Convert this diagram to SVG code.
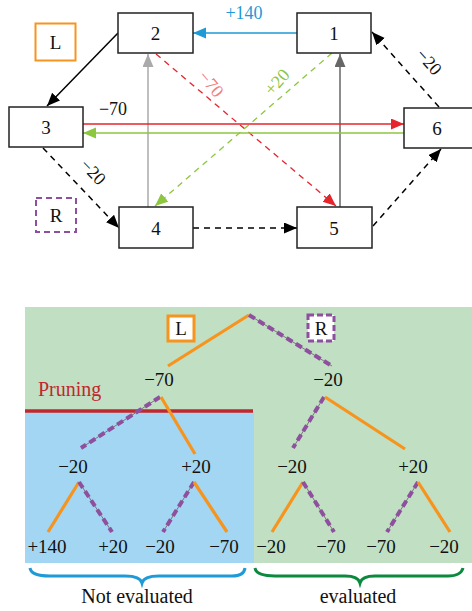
<svg xmlns="http://www.w3.org/2000/svg" width="472" height="611" viewBox="0 0 472 611">
<style>
text{font-family:"Liberation Serif","Times New Roman",Tinos,"Nimbus Roman","Noto Serif","DejaVu Serif",FreeSerif,serif;fill:#111}
.node rect{fill:#fff;stroke:#222;stroke-width:1.5}
.nl{font-size:19px;text-anchor:middle}
.el{font-size:18px;text-anchor:middle}
.tl{font-size:19px;text-anchor:middle}
.or{stroke:#f7941d;stroke-width:3.2;fill:none;stroke-linecap:butt}
.pu{stroke:#8e4f9e;stroke-width:4;stroke-dasharray:7 4;fill:none}
.pg{stroke:#777;stroke-width:1;fill:none}
</style>
<defs>
<marker id="ak" markerUnits="userSpaceOnUse" markerWidth="14" markerHeight="12" refX="13" refY="5.5" orient="auto"><path d="M0,0 L13,5.5 L0,11 z" fill="#000"/></marker>
<marker id="ab" markerUnits="userSpaceOnUse" markerWidth="14" markerHeight="12" refX="13" refY="5.5" orient="auto"><path d="M0,0 L13,5.5 L0,11 z" fill="#1e9ad6"/></marker>
<marker id="ar" markerUnits="userSpaceOnUse" markerWidth="14" markerHeight="12" refX="13" refY="5.5" orient="auto"><path d="M0,0 L13,5.5 L0,11 z" fill="#e6242b"/></marker>
<marker id="ag" markerUnits="userSpaceOnUse" markerWidth="14" markerHeight="12" refX="13" refY="5.5" orient="auto"><path d="M0,0 L13,5.5 L0,11 z" fill="#8dc63f"/></marker>
<marker id="al" markerUnits="userSpaceOnUse" markerWidth="14" markerHeight="12" refX="13" refY="5.5" orient="auto"><path d="M0,0 L13,5.5 L0,11 z" fill="#aaaaaa"/></marker>
<marker id="ad" markerUnits="userSpaceOnUse" markerWidth="14" markerHeight="12" refX="13" refY="5.5" orient="auto"><path d="M0,0 L13,5.5 L0,11 z" fill="#666666"/></marker>
</defs>

<g id="connectors">
<line x1="297" y1="33" x2="193" y2="33" stroke="#1e9ad6" stroke-width="1.5" marker-end="url(#ab)"/>
<line x1="118" y1="33" x2="47" y2="106" stroke="#000" stroke-width="1.5" marker-end="url(#ak)"/>
<line x1="43" y1="148" x2="119" y2="228" stroke="#000" stroke-width="1.5" stroke-dasharray="6 5" marker-end="url(#ak)"/>
<line x1="193" y1="228" x2="297" y2="228" stroke="#000" stroke-width="1.5" stroke-dasharray="6 5" marker-end="url(#ak)"/>
<line x1="373" y1="226" x2="441" y2="149" stroke="#000" stroke-width="1.5" stroke-dasharray="6 5" marker-end="url(#ak)"/>
<line x1="439" y1="107" x2="372" y2="32" stroke="#000" stroke-width="1.5" stroke-dasharray="6 5" marker-end="url(#ak)"/>
<line x1="148" y1="207" x2="148" y2="54" stroke="#aaaaaa" stroke-width="1.5" marker-end="url(#al)"/>
<line x1="340" y1="207" x2="340" y2="54" stroke="#666666" stroke-width="1.5" marker-end="url(#ad)"/>
<line x1="156" y1="54" x2="336" y2="206" stroke="#e6242b" stroke-width="1.3" stroke-dasharray="6 5" marker-end="url(#ar)"/>
<line x1="332" y1="53" x2="155" y2="206" stroke="#8dc63f" stroke-width="1.3" stroke-dasharray="6 5" marker-end="url(#ag)"/>
<line x1="83" y1="124" x2="404" y2="124" stroke="#e6242b" stroke-width="1.5" marker-end="url(#ar)"/>
<line x1="404" y1="133" x2="83" y2="133" stroke="#8dc63f" stroke-width="1.5" marker-end="url(#ag)"/>
<text class="el" x="244" y="19" style="fill:#1e9ad6">+140</text>
<text class="el" x="113" y="115">−70</text>
<text class="el" transform="translate(93,172) rotate(46)" y="6">−20</text>
<text class="el" transform="translate(429,62) rotate(48)" y="6">−20</text>
<text class="el" transform="translate(211,84) rotate(50)" y="6" style="fill:#f07f82">−70</text>
<text class="el" transform="translate(277,82) rotate(-48)" y="6" style="fill:#8dc63f">+20</text>
</g>

<g id="node1" class="node"><rect x="297" y="13" width="74" height="40"/><text class="nl" x="334" y="40">1</text></g>
<g id="node2" class="node"><rect x="118" y="13" width="75" height="40"/><text class="nl" x="155.5" y="40">2</text></g>
<g id="node3" class="node"><rect x="9" y="107" width="74" height="40"/><text class="nl" x="46" y="134">3</text></g>
<g id="node4" class="node"><rect x="119" y="207" width="74" height="41"/><text class="nl" x="156" y="235">4</text></g>
<g id="node5" class="node"><rect x="297" y="207" width="75" height="41"/><text class="nl" x="334" y="235">5</text></g>
<g id="node6" class="node"><rect x="404" y="108" width="70" height="40"/><text class="nl" x="437" y="135">6</text></g>

<g id="legendL"><rect x="35.5" y="23.5" width="40" height="37" fill="#fff" stroke="#f7941d" stroke-width="2"/><text class="nl" x="55.5" y="49">L</text></g>
<g id="legendR"><rect x="36" y="198" width="40" height="34" fill="#fff" stroke="#8e4f9e" stroke-width="2" stroke-dasharray="6 4"/><text class="nl" x="56" y="222">R</text></g>

<g id="tree">
<rect x="25" y="307" width="447" height="256" fill="#c1dfc3"/>
<rect x="25" y="412" width="229" height="151" fill="#a3d6f2"/>
<line x1="25" y1="411" x2="253" y2="411" stroke="#c1272d" stroke-width="3.5"/>
<text x="38" y="396" style="font-size:20px;fill:#c1272d">Pruning</text>

<line class="or" x1="249" y1="315" x2="168" y2="366"/>
<line class="pg" x1="249" y1="315" x2="332" y2="366"/><line class="pu" x1="249" y1="315" x2="332" y2="366"/>

<line class="pg" x1="160" y1="397" x2="81" y2="448"/><line class="pu" x1="160" y1="397" x2="81" y2="448"/>
<line class="or" x1="161" y1="397" x2="195" y2="454"/>
<line class="pg" x1="324" y1="397" x2="293" y2="448"/><line class="pu" x1="324" y1="397" x2="293" y2="448"/>
<line class="or" x1="325" y1="397" x2="405" y2="449"/>

<line class="or" x1="79" y1="482" x2="48" y2="532"/>
<line class="pg" x1="79" y1="482" x2="112" y2="532"/><line class="pu" x1="79" y1="482" x2="112" y2="532"/>
<line class="pg" x1="194" y1="482" x2="163" y2="532"/><line class="pu" x1="194" y1="482" x2="163" y2="532"/>
<line class="or" x1="194" y1="482" x2="227" y2="532"/>
<line class="or" x1="303" y1="482" x2="272" y2="532"/>
<line class="pg" x1="303" y1="482" x2="334" y2="532"/><line class="pu" x1="303" y1="482" x2="334" y2="532"/>
<line class="pg" x1="418" y1="482" x2="387" y2="532"/><line class="pu" x1="418" y1="482" x2="387" y2="532"/>
<line class="or" x1="418" y1="482" x2="450" y2="532"/>

<rect x="168" y="316" width="26" height="25" fill="#fff" stroke="#f7941d" stroke-width="3"/>
<text class="tl" x="181" y="335">L</text>
<rect x="308" y="315" width="26" height="26" fill="#fff" stroke="#8e4f9e" stroke-width="3" stroke-dasharray="6 3"/>
<text class="tl" x="321" y="335">R</text>

<text class="tl" x="159" y="386">−70</text>
<text class="tl" x="328" y="386">−20</text>
<text class="tl" x="73" y="473">−20</text>
<text class="tl" x="196" y="473">+20</text>
<text class="tl" x="292" y="473">−20</text>
<text class="tl" x="413" y="473">+20</text>

<text class="tl" x="47" y="553">+140</text>
<text class="tl" x="113" y="553">+20</text>
<text class="tl" x="160" y="553">−20</text>
<text class="tl" x="224" y="553">−70</text>
<text class="tl" x="271" y="553">−20</text>
<text class="tl" x="331" y="553">−70</text>
<text class="tl" x="381" y="553">−70</text>
<text class="tl" x="444" y="553">−20</text>

<path d="M30,568 Q31,576 50,576 L125,576 Q140,576 142,583 Q144,576 159,576 L232,576 Q244,576 245,568" fill="none" stroke="#1e9ad6" stroke-width="3"/>
<path d="M255,568 Q256,576 275,576 L345,576 Q358,576 360,583 Q362,576 375,576 L448,576 Q461,576 463,568" fill="none" stroke="#0b8a3e" stroke-width="3"/>
<text class="tl" x="137" y="603" style="font-size:20px">Not evaluated</text>
<text class="tl" x="358" y="603" style="font-size:20px">evaluated</text>
</g>
</svg>
